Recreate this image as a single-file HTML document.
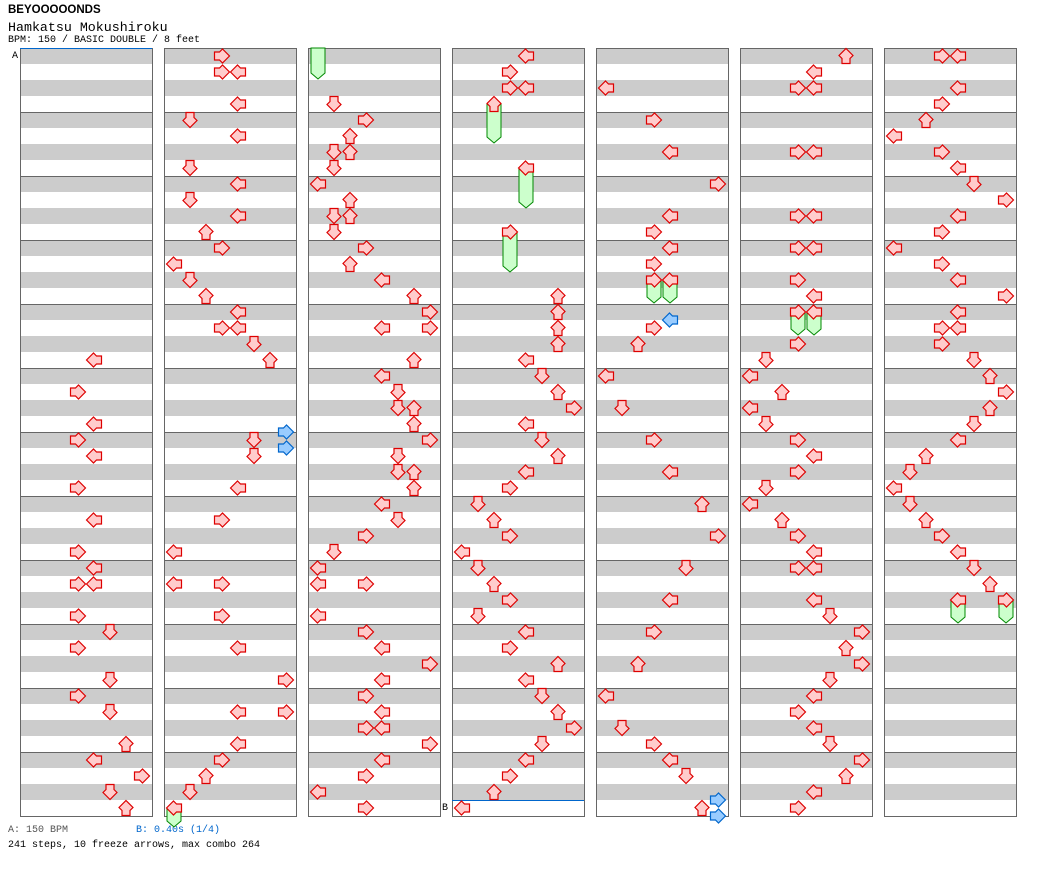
<!DOCTYPE html>
<html><head><meta charset="utf-8"><style>
body{margin:0;background:#fff;width:1040px;height:876px;overflow:hidden;position:relative;font-family:"Liberation Mono",monospace}
.t{position:absolute;white-space:pre;line-height:1}
</style></head><body>
<div class="t" style="left:8px;top:5px;font-size:11.5px;font-weight:bold;font-family:'Liberation Sans',sans-serif">BEYOOOOONDS</div>
<div class="t" style="left:8px;top:21px;font-size:13.3px">Hamkatsu Mokushiroku</div>
<div class="t" style="left:8px;top:36px;font-size:10px">BPM: 150 / BASIC DOUBLE / 8 feet</div>
<div class="t" style="left:8px;top:826px;font-size:10px;color:#555">A: 150 BPM</div>
<div class="t" style="left:136px;top:826px;font-size:10px;color:#06c">B: 0.40s (1/4)</div>
<div class="t" style="left:8px;top:841px;font-size:10px">241 steps, 10 freeze arrows, max combo 264</div>
<svg id="s" width="1040" height="876" style="position:absolute;left:0;top:0" xmlns="http://www.w3.org/2000/svg"></svg>
<script>
var s=document.getElementById('s'),h='';
var cols=[20,164,308,452,596,740,884];
cols.forEach(function(x){
 for(var k=0;k<48;k++){h+='<rect x="'+x+'" y="'+(48+16*k)+'" width="132" height="16" fill="'+(k%2?'#fff':'#ccc')+'"/>';}
 for(var m=1;m<12;m++){h+='<line x1="'+x+'" x2="'+(x+132)+'" y1="'+(48+64*m+0.5)+'" y2="'+(48+64*m+0.5)+'" stroke="#666"/>';}
 h+='<rect x="'+(x+0.5)+'" y="48.5" width="132" height="768" fill="none" stroke="#666"/>';
});
h+='<line x1="20" x2="152" y1="48.5" y2="48.5" stroke="#06c"/>';
h+='<text x="12" y="58" font-size="10" font-family="Liberation Mono,monospace">A</text>';
h+='<line x1="452" x2="584" y1="800.5" y2="800.5" stroke="#06c"/>';
h+='<text x="442" y="810" font-size="10" font-family="Liberation Mono,monospace">B</text>';
var rot=[0,270,90,180];
function arrow(x,y,lane,blue){
 var f=blue?'#9cf':'#fcc',st=blue?'#06c':'#d00';
 return '<polygon transform="translate('+x+','+y+') rotate('+rot[lane%4]+')" points="-7.5,0 -0.5,-7 2.5,-4 7.5,-4 7.5,4 2.5,4 -0.5,7" fill="'+f+'" stroke="'+st+'" stroke-width="1.2" stroke-linejoin="miter"/>';
}
function cx(c,l){return cols[c]+10+16*l;}
function cy(k){return 56+16*k;}
function freeze(c,l,y0,y1){
 var x=cx(c,l);
 h+='<polygon points="'+(x-7)+','+y0+' '+(x+7)+','+y0+' '+(x+7)+','+(y1-5)+' '+x+','+(y1+1)+' '+(x-7)+','+(y1-5)+'" fill="#cfc" stroke="#080"/>';
}
freeze(1,0,808,826);freeze(2,0,48,78);
freeze(3,2,104,142);freeze(3,4,168,207);freeze(3,3,232,271);
freeze(4,3,280,302);freeze(4,4,280,302);
freeze(5,3,312,334);freeze(5,4,312,334);
freeze(6,4,600,622);freeze(6,7,600,622);
var N=[
[[19,4],[21,3],[23,4],[24,3],[25,4],[27,3],[29,4],[31,3],[32,4],[33,3],[33,4],[35,3],[36,5],[37,3],[39,5],[40,3],[41,5],[43,6],[44,4],[45,7],[46,5],[47,6]],
[[0,3],[1,3],[1,4],[3,4],[4,1],[5,4],[7,1],[8,4],[9,1],[10,4],[11,2],[12,3],[13,0],[14,1],[15,2],[16,4],[17,3],[17,4],[18,5],[19,6],[24,5],[25,5],[27,4],[29,3],[31,0],[33,0],[33,3],[35,3],[37,4],[39,7],[41,4],[41,7],[43,4],[44,3],[45,2],[46,1],[47,0]],
[[3,1],[4,3],[5,2],[6,1],[6,2],[7,1],[8,0],[9,2],[10,1],[10,2],[11,1],[12,3],[13,2],[14,4],[15,6],[16,7],[17,4],[17,7],[19,6],[20,4],[21,5],[22,5],[22,6],[23,6],[24,7],[25,5],[26,5],[26,6],[27,6],[28,4],[29,5],[30,3],[31,1],[32,0],[33,0],[33,3],[35,0],[36,3],[37,4],[38,7],[39,4],[40,3],[41,4],[42,3],[42,4],[43,7],[44,4],[45,3],[46,0],[47,3]],
[[0,4],[1,3],[2,3],[2,4],[3,2],[7,4],[11,3],[15,6],[16,6],[17,6],[18,6],[19,4],[20,5],[21,6],[22,7],[23,4],[24,5],[25,6],[26,4],[27,3],[28,1],[29,2],[30,3],[31,0],[32,1],[33,2],[34,3],[35,1],[36,4],[37,3],[38,6],[39,4],[40,5],[41,6],[42,7],[43,5],[44,4],[45,3],[46,2],[47,0]],
[[2,0],[4,3],[6,4],[8,7],[10,4],[11,3],[12,4],[13,3],[14,3],[14,4],[17,3],[18,2],[20,0],[22,1],[24,3],[26,4],[28,6],[30,7],[32,5],[34,4],[36,3],[38,2],[40,0],[42,1],[43,3],[44,4],[45,5],[47,6]],
[[0,6],[1,4],[2,3],[2,4],[6,3],[6,4],[10,3],[10,4],[12,3],[12,4],[14,3],[15,4],[16,3],[16,4],[18,3],[19,1],[20,0],[21,2],[22,0],[23,1],[24,3],[25,4],[26,3],[27,1],[28,0],[29,2],[30,3],[31,4],[32,3],[32,4],[34,4],[35,5],[36,7],[37,6],[38,7],[39,5],[40,4],[41,3],[42,4],[43,5],[44,7],[45,6],[46,4],[47,3]],
[[0,3],[0,4],[2,4],[3,3],[4,2],[5,0],[6,3],[7,4],[8,5],[9,7],[10,4],[11,3],[12,0],[13,3],[14,4],[15,7],[16,4],[17,3],[17,4],[18,3],[19,5],[20,6],[21,7],[22,6],[23,5],[24,4],[25,2],[26,1],[27,0],[28,1],[29,2],[30,3],[31,4],[32,5],[33,6],[34,4],[34,7]]
];
N.forEach(function(a,c){a.forEach(function(n){h+=arrow(cx(c,n[1]),cy(n[0]),n[1],false);});});
h+=arrow(cx(1,7),432,7,true);h+=arrow(cx(1,7),448,7,true);
h+=arrow(cx(4,4),320,4,true);
h+=arrow(cx(4,7),800,7,true);h+=arrow(cx(4,7),816,7,true);
s.innerHTML=h;
</script>
</body></html>
